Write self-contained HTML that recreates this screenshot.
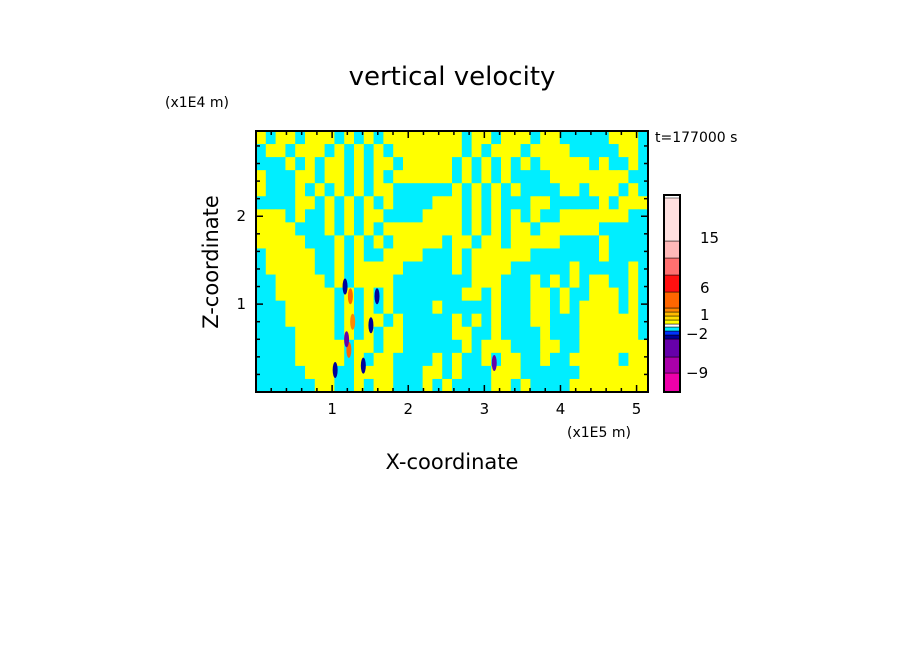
<!DOCTYPE html>
<html><head><meta charset="utf-8"><style>
body{margin:0;background:#fff;width:904px;height:654px;overflow:hidden}
svg text{font-family:"DejaVu Sans","Liberation Sans",sans-serif;fill:#000}
</style></head><body>
<svg id="chart" width="904" height="654">
<text x="452" y="85" font-size="26" text-anchor="middle">vertical velocity</text>
<text x="165" y="107" font-size="14">(x1E4 m)</text>
<text x="655" y="142" font-size="14">t=177000 s</text>
<text x="567" y="437" font-size="14">(x1E5 m)</text>
<text x="452" y="469" font-size="21" text-anchor="middle">X-coordinate</text>
<text x="0" y="0" font-size="21" text-anchor="middle" transform="translate(218,262) rotate(-90)">Z-coordinate</text>
<g id="cells"></g>
<g id="blobs"></g>
<rect x="256" y="131" width="392" height="261" fill="none" stroke="#000" stroke-width="2"/>
<g id="ticks"></g>
<g id="cbar"></g>
</svg>
<script>
const xMin=0,xMax=5.15,zMin=0,zMax=2.97;
const xTicks=[1,2,3,4,5];
const zTicks=[1,2];
const cbLevels=[-12,-9,-6,-3,-2,-1,0,0.5,1,2,3,6,9,12,15,22];
const cbColors=["#ee00aa","#aa00aa","#6600aa","#000099","#0033ff","#00eeff","#ffffff","#ffff00","#ffdd00","#ffbb00","#ff8800","#ff6600","#ff1010","#ff7070","#ffb8b8","#ffe0e0"];
const cbLabels=[-9,-2,1,6,15];
const fieldLeft=[
"Y.YY.YYY.Y.Y.YYYYYYY",
".YY.YYY.Y.Y.Y.YYYYYY",
"...Y.Y.YY.Y.YY.YYYYY",
"Y...YY.YY.Y.Y.YYYYYY",
"Y...Y.Y.Y.Y.YY......",
"....YY.Y.Y.Y.Y....YY",
"YYY.Y..Y.Y.YY....YYY",
"YYYY...Y.Y.Y.YYYYYYY",
"YYYYY...Y.Y.Y.YYYYY.",
".YYYYY..Y.Y..YYYY...",
".YYYYY..Y.YYYYY.....",
"..YYYYY.Y.YYYY......",
"..YYYYYY.Y.Y.Y......",
"...YYYYY.Y.Y.Y....Y.",
"...YYYYY.Y.YY.Y.....",
"....YYYY.Y.Y.YY.....",
"....YYYYY.YY.YY.....",
"....YYYYY.Y.YY....Y.",
".....YYY..YYYY...YY.",
"......YY..Y.YY...Y.Y"
];
const fieldRight=[
"Y.YY.YYY.YY.....YYY.",
"Y.Y.YYY.YYYY.....YY.",
".Y.Y.Y.Y.YYYYY.Y..Y.",
".Y.Y.Y....YYYYYYYY..",
"Y.Y.Y.Y....YY.YYY.Y.",
"Y.Y.Y...YY.....Y.YYY",
"Y.Y.Y.Y.Y..YYYYYYY..",
"Y.Y.Y.YY.YYYYYY.....",
"YY.YY.YYYYY....Y....",
"Y.YYYYYY.......Y....",
"Y.YYYY......Y.....Y.",
"..YYY...Y.Y.Y.YY..Y.",
".YY.Y...YY.Y..YYY.Y.",
"....Y...YY.Y.YYYY.Y.",
"Y.Y.Y...YY...YYYYYY.",
"YY..Y....Y...YYYYYY.",
".Y.YYY...YY..YYYYYYY",
"Y..Y.YY..Y..YYYYY.YY",
"Y...YYY......YYYYYYY",
"....YY.Y....YYYYYYYY"
];
const fieldRows=fieldLeft.map((r,i)=>r+fieldRight[i]);
const blobX=[1.59,1.51,1.24,1.22,1.17,1.04,1.41,3.13,1.27,1.19];
const blobZ=[1.09,0.76,1.09,0.48,1.2,0.25,0.3,0.33,0.8,0.6];
const blobV=[-2.5,-2.5,8,8,-2.5,-2.5,-2.5,-4,4,-4];
const NS="http://www.w3.org/2000/svg";
const L=256,R=648,T=131,B=392;
const sx=v=>L+(v-xMin)/(xMax-xMin)*(R-L);
const sz=v=>B-(v-zMin)/(zMax-zMin)*(B-T);
function colorFor(v){for(let i=0;i<cbColors.length;i++){if(v<cbLevels[i+1])return cbColors[i];}return cbColors[cbColors.length-1];}
function mk(tag,a,parent){const e=document.createElementNS(NS,tag);for(const k in a)e.setAttribute(k,a[k]);parent.appendChild(e);return e;}
const cells=document.getElementById('cells');
const nr=fieldRows.length,nc=40;
const cw=(xMax-xMin)/nc,chh=(zMax-zMin)/nr;
for(let r=0;r<nr;r++)for(let c=0;c<nc;c++){
  const ch=fieldRows[r][c]||'.';
  const v=ch==='Y'?0.6:-0.5;
  const x0=sx(xMin+c*cw),x1=sx(xMin+(c+1)*cw),y0=sz(zMax-r*chh),y1=sz(zMax-(r+1)*chh);
  const e=mk('rect',{x:x0,y:y0,width:x1-x0+0.5,height:y1-y0+0.5,fill:colorFor(v)},cells);
  
  
}
const blobs=document.getElementById('blobs');
for(let i=0;i<blobX.length;i++){
  const e=mk('ellipse',{cx:sx(blobX[i]),cy:sz(blobZ[i]),rx:2.5,ry:8,fill:colorFor(blobV[i])},blobs);
  
  
}
const ticks=document.getElementById('ticks');
for(let v=0.2;v<xMax;v+=0.2){const x=sx(v);const major=Math.abs(v-Math.round(v))<1e-6;const len=major?7:4;
  mk('line',{x1:x,x2:x,y1:B,y2:B-len,stroke:'#000','stroke-width':1.5},ticks);
  mk('line',{x1:x,x2:x,y1:T,y2:T+len,stroke:'#000','stroke-width':1.5},ticks);}
for(let v=0.2;v<zMax;v+=0.2){const y=sz(v);const major=Math.abs(v-Math.round(v))<1e-6;const len=major?7:4;
  mk('line',{x1:L,x2:L+len,y1:y,y2:y,stroke:'#000','stroke-width':1.5},ticks);
  mk('line',{x1:R,x2:R-len,y1:y,y2:y,stroke:'#000','stroke-width':1.5},ticks);}
xTicks.forEach(v=>{const t=mk('text',{x:sx(v),y:B+22,'font-size':15,'text-anchor':'middle'},ticks);t.textContent=v;
  
  });
zTicks.forEach(v=>{const t=mk('text',{x:L-10,y:sz(v)+5,'font-size':15,'text-anchor':'end'},ticks);t.textContent=v;
  
  });
const cbH=[19,16,18,4,4,4,3,4,4,4,4,16,17,17,17,43];
const cb=document.getElementById('cbar');
let y=392;
for(let i=0;i<cbColors.length;i++){
  const h=cbH[i];y-=h;
  const e=mk('rect',{x:664,y:y,width:16,height:h,fill:cbColors[i],stroke:'#000','stroke-width':0.5},cb);
  
  
}
mk('rect',{x:664,y:195,width:16,height:197,fill:'none',stroke:'#000','stroke-width':2},cb);
const cbLabelY={"-9":378,"-2":339,"1":320,"6":293,"15":243};
cbLabels.forEach(v=>{const t=mk('text',{x:v<0?686:700,y:cbLabelY[v],'font-size':15},cb);t.textContent=v<0?'−'+(-v):v;
  
  });
</script>
</body></html>
